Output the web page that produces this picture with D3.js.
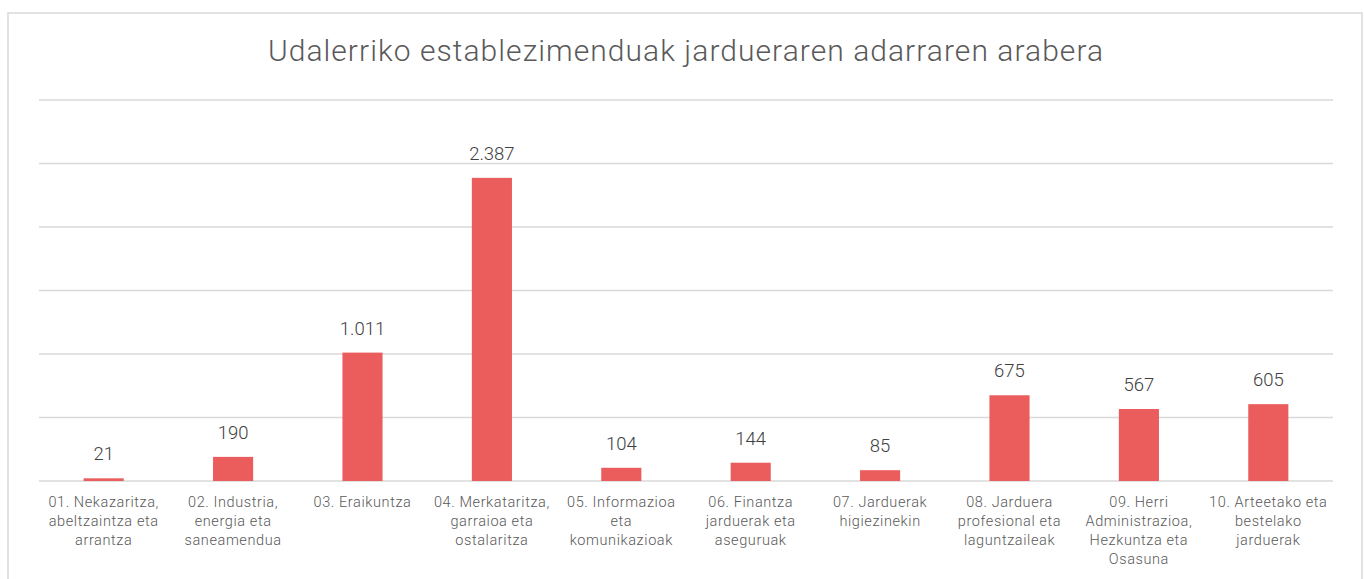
<!DOCTYPE html>
<html>
<head>
<meta charset="utf-8">
<script src="https://cdn.jsdelivr.net/npm/d3@7.9.0/dist/d3.min.js"></script>
<style>
  html, body { margin: 0; padding: 0; background: #fff; }
  svg { display: block; font-family: Roboto, "Noto Sans", sans-serif; }
</style>
</head>
<body>
<svg width="1364" height="579"></svg>
<script>
const categories = [
  ["01. Nekazaritza,", "abeltzaintza eta", "arrantza"],
  ["02. Industria,", "energia eta", "saneamendua"],
  ["03. Eraikuntza"],
  ["04. Merkataritza,", "garraioa eta", "ostalaritza"],
  ["05. Informazioa", "eta", "komunikazioak"],
  ["06. Finantza", "jarduerak eta", "aseguruak"],
  ["07. Jarduerak", "higiezinekin"],
  ["08. Jarduera", "profesional eta", "laguntzaileak"],
  ["09. Herri", "Administrazioa,", "Hezkuntza eta", "Osasuna"],
  ["10. Arteetako eta", "bestelako", "jarduerak"]
];
const values = [21, 190, 1011, 2387, 104, 144, 85, 675, 567, 605];
const gridTicks = [0, 500, 1000, 1500, 2000, 2500, 3000];
const title = "Udalerriko establezimenduak jardueraren adarraren arabera";

const svg = d3.select("svg");
const plotLeft = 39, plotRight = 1333, plotTop = 100, plotBottom = 481;

const locale = d3.formatLocale({decimal: ",", thousands: ".", grouping: [3], currency: ["", "€"]});
const fmt = locale.format(",d");

// frame
svg.append("path")
  .attr("d", `M8,590 L8,13 L1362,13 L1362,590`)
  .attr("fill", "none")
  .attr("stroke", "#d9d9d9")
  .attr("stroke-width", 1.5);

svg.append("text")
  .attr("x", (plotLeft + plotRight) / 2)
  .attr("y", 61)
  .attr("text-anchor", "middle")
  .attr("font-size", 30)
  .attr("font-weight", 300)
  .attr("letter-spacing", 1.05)
  .attr("fill", "#595959")
  .text(title);

const x = d3.scaleBand()
  .domain(d3.range(values.length))
  .range([plotLeft, plotRight])
  .paddingInner(0.69)
  .paddingOuter(0.345);

const y = d3.scaleLinear().domain([0, 3000]).range([plotBottom, plotTop]);

svg.append("g")
  .selectAll("line")
  .data(gridTicks)
  .join("line")
  .attr("x1", plotLeft)
  .attr("x2", plotRight)
  .attr("y1", d => y(d))
  .attr("y2", d => y(d))
  .attr("stroke", "#d9d9d9")
  .attr("stroke-width", 1.5);

svg.append("g")
  .selectAll("rect")
  .data(values)
  .join("rect")
  .attr("x", (d, i) => x(i))
  .attr("width", x.bandwidth())
  .attr("y", d => y(d))
  .attr("height", d => plotBottom - y(d))
  .attr("fill", "#eb5c5c");

svg.append("g")
  .selectAll("text")
  .data(values)
  .join("text")
  .attr("x", (d, i) => x(i) + x.bandwidth() / 2)
  .attr("y", d => y(d) - 18)
  .attr("text-anchor", "middle")
  .attr("font-size", 18.5)
  .attr("font-weight", 300)
  .attr("fill", "#404040")
  .text(d => fmt(d));

const labels = svg.append("g")
  .selectAll("text")
  .data(categories)
  .join("text")
  .attr("x", (d, i) => x(i) + x.bandwidth() / 2)
  .attr("y", 507)
  .attr("text-anchor", "middle")
  .attr("font-size", 14.5)
  .attr("font-weight", 300)
  .attr("letter-spacing", 0.6)
  .attr("fill", "#595959");

labels.selectAll("tspan")
  .data(d => d)
  .join("tspan")
  .attr("x", function () { return d3.select(this.parentNode).attr("x"); })
  .attr("dy", (d, i) => i === 0 ? 0 : 19)
  .text(d => d);
</script>
</body>
</html>
